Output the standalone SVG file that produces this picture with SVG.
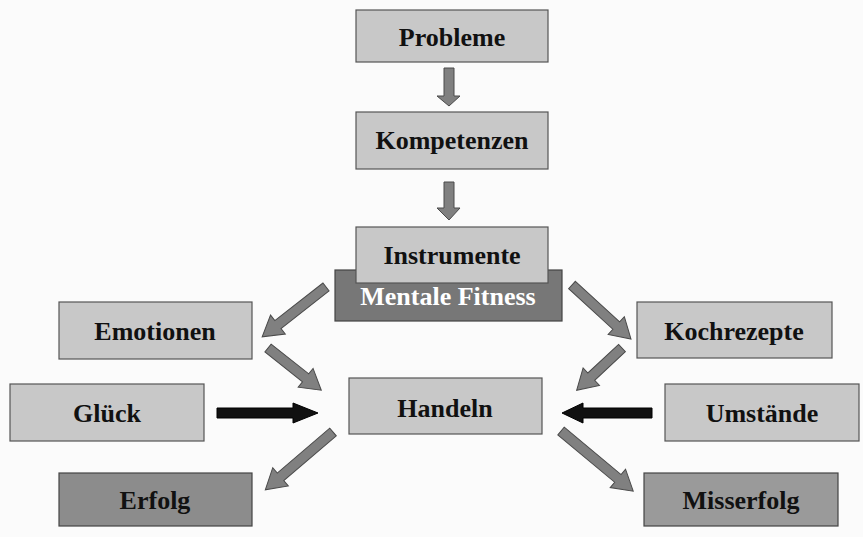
<svg xmlns="http://www.w3.org/2000/svg" width="863" height="537" viewBox="0 0 863 537">
<defs>
<style>
.bg{fill:#fbfbfb}
.box{fill:#c8c8c8;stroke:#555;stroke-width:1.2}
.dark{fill:#777;stroke:#444;stroke-width:1.2}
.mid{fill:#8c8c8c;stroke:#444;stroke-width:1.2}
.mid2{fill:#9a9a9a;stroke:#444;stroke-width:1.2}
.t{font-family:"Liberation Serif","Times New Roman",serif;font-weight:bold;font-size:26px;fill:#111;text-anchor:middle}
.w{fill:#fff}
.ga{fill:#808080;stroke:#4a4a4a;stroke-width:1}
.ba{fill:#111;stroke:#000;stroke-width:1}
</style>
</defs>
<rect class="bg" x="0" y="0" width="863" height="537"/>
<g id="connectors">
<polygon class="ga" points="444,68 454,68 454,96 460,96 449,106 437,96 444,96"/>
<polygon class="ga" points="444,182 454,182 454,208 460,208 449,220 437,208 444,208"/>
<polygon class="ga" transform="translate(326,287) rotate(142)" points="0,-5 61,-5 61,-12 81,0 61,12 61,5 0,5"/>
<polygon class="ga" transform="translate(268,348) rotate(38.4)" points="0,-5 48,-5 48,-12 68,0 48,12 48,5 0,5"/>
<polygon class="ga" transform="translate(333,432) rotate(139.5)" points="0,-5 69,-5 69,-12 89,0 69,12 69,5 0,5"/>
<polygon class="ga" transform="translate(572,285) rotate(42.5)" points="0,-5 60,-5 60,-12 80,0 60,12 60,5 0,5"/>
<polygon class="ga" transform="translate(622,348) rotate(137)" points="0,-5 42,-5 42,-12 62,0 42,12 42,5 0,5"/>
<polygon class="ga" transform="translate(561,431) rotate(39.8)" points="0,-5 74,-5 74,-12 94,0 74,12 74,5 0,5"/>
<polygon class="ba" points="217,408 293,408 293,403 318,413 293,423 293,418 217,418"/>
<polygon class="ba" points="652,408 583,408 583,403 562,413 583,423 583,418 652,418"/>
</g>
<g id="probleme"><rect class="box" x="356" y="10" width="192" height="52"/><text class="t" x="452" y="46">Probleme</text></g>
<g id="kompetenzen"><rect class="box" x="356" y="112" width="192" height="57"/><text class="t" x="452" y="149">Kompetenzen</text></g>
<g id="mentale-fitness"><rect class="dark" x="335" y="270" width="227" height="51"/><text class="t w" x="448" y="305">Mentale Fitness</text></g>
<g id="instrumente"><rect class="box" x="356" y="227" width="192" height="56"/><text class="t" x="452" y="264">Instrumente</text></g>
<g id="emotionen"><rect class="box" x="59" y="302" width="193" height="57"/><text class="t" x="155" y="340">Emotionen</text></g>
<g id="kochrezepte"><rect class="box" x="637" y="302" width="195" height="56"/><text class="t" x="734" y="340">Kochrezepte</text></g>
<g id="glueck"><rect class="box" x="10" y="384" width="194" height="57"/><text class="t" x="107" y="422">Glück</text></g>
<g id="handeln"><rect class="box" x="349" y="378" width="193" height="56"/><text class="t" x="445" y="417">Handeln</text></g>
<g id="umstaende"><rect class="box" x="665" y="384" width="194" height="57"/><text class="t" x="762" y="422">Umstände</text></g>
<g id="erfolg"><rect class="mid" x="59" y="473" width="193" height="53"/><text class="t" x="155" y="509">Erfolg</text></g>
<g id="misserfolg"><rect class="mid2" x="644" y="473" width="194" height="53"/><text class="t" x="741" y="509">Misserfolg</text></g>
</svg>
